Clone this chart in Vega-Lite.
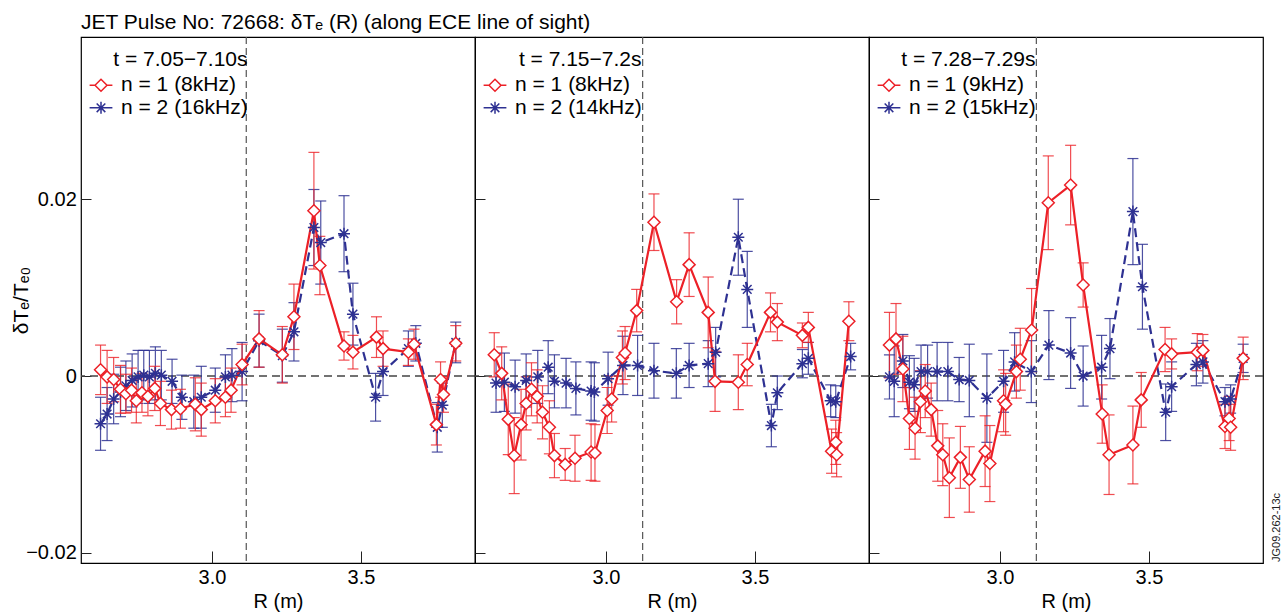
{
  "$schema": "https://vega.github.io/schema/vega-lite/v6.json",
  "background": "white",
  "padding": {"left": 9, "top": 11, "right": 2, "bottom": 2},
  "datasets": {
    "refs": [{"p": 1, "R": 3.115}, {"p": 2, "R": 3.123}, {"p": 3, "R": 3.122}],
    "p1": [
      {"n": "n2", "R": 2.626, "v": -0.0054, "e": 0.003},
      {"n": "n2", "R": 2.648, "v": -0.0043, "e": 0.003},
      {"n": "n2", "R": 2.670, "v": -0.0026, "e": 0.0028},
      {"n": "n2", "R": 2.693, "v": -0.0018, "e": 0.0028},
      {"n": "n2", "R": 2.711, "v": -0.0011, "e": 0.0028},
      {"n": "n2", "R": 2.732, "v": -0.0005, "e": 0.003},
      {"n": "n2", "R": 2.752, "v": -0.0001, "e": 0.003},
      {"n": "n2", "R": 2.771, "v": 0.0001, "e": 0.0028},
      {"n": "n2", "R": 2.790, "v": -0.0001, "e": 0.003},
      {"n": "n2", "R": 2.810, "v": 0.0003, "e": 0.003},
      {"n": "n2", "R": 2.830, "v": 0.0001, "e": 0.0028},
      {"n": "n2", "R": 2.866, "v": -0.0006, "e": 0.0025},
      {"n": "n2", "R": 2.899, "v": -0.0024, "e": 0.0025},
      {"n": "n2", "R": 2.939, "v": -0.0029, "e": 0.003},
      {"n": "n2", "R": 2.964, "v": -0.0024, "e": 0.0035},
      {"n": "n2", "R": 3.011, "v": -0.0016, "e": 0.0025},
      {"n": "n2", "R": 3.045, "v": -0.0001, "e": 0.0025},
      {"n": "n2", "R": 3.067, "v": 0.0001, "e": 0.003},
      {"n": "n2", "R": 3.101, "v": 0.0005, "e": 0.0033},
      {"n": "n2", "R": 3.158, "v": 0.0040, "e": 0.003},
      {"n": "n2", "R": 3.236, "v": 0.0023, "e": 0.003},
      {"n": "n2", "R": 3.275, "v": 0.0050, "e": 0.0033},
      {"n": "n2", "R": 3.342, "v": 0.0168, "e": 0.0043},
      {"n": "n2", "R": 3.365, "v": 0.0151, "e": 0.0047},
      {"n": "n2", "R": 3.443, "v": 0.0161, "e": 0.0043},
      {"n": "n2", "R": 3.473, "v": 0.0070, "e": 0.0035},
      {"n": "n2", "R": 3.549, "v": -0.0024, "e": 0.0027},
      {"n": "n2", "R": 3.574, "v": 0.0005, "e": 0.0027},
      {"n": "n2", "R": 3.659, "v": 0.0031, "e": 0.002},
      {"n": "n2", "R": 3.684, "v": 0.0037, "e": 0.002},
      {"n": "n2", "R": 3.756, "v": -0.0058, "e": 0.0028},
      {"n": "n2", "R": 3.773, "v": -0.0033, "e": 0.0025},
      {"n": "n2", "R": 3.818, "v": 0.0038, "e": 0.0023},
      {"n": "n1", "R": 2.626, "v": 0.0007, "e": 0.0028},
      {"n": "n1", "R": 2.648, "v": -0.0001, "e": 0.003},
      {"n": "n1", "R": 2.670, "v": -0.0004, "e": 0.0025},
      {"n": "n1", "R": 2.693, "v": -0.0015, "e": 0.0027},
      {"n": "n1", "R": 2.711, "v": -0.0020, "e": 0.0022},
      {"n": "n1", "R": 2.730, "v": -0.0016, "e": 0.0025},
      {"n": "n1", "R": 2.746, "v": -0.0028, "e": 0.0025},
      {"n": "n1", "R": 2.765, "v": -0.0019, "e": 0.0022},
      {"n": "n1", "R": 2.785, "v": -0.0023, "e": 0.0022},
      {"n": "n1", "R": 2.808, "v": -0.0014, "e": 0.0025},
      {"n": "n1", "R": 2.827, "v": -0.0031, "e": 0.0025},
      {"n": "n1", "R": 2.864, "v": -0.0038, "e": 0.0022},
      {"n": "n1", "R": 2.894, "v": -0.0037, "e": 0.0022},
      {"n": "n1", "R": 2.944, "v": -0.0032, "e": 0.003},
      {"n": "n1", "R": 2.964, "v": -0.0038, "e": 0.003},
      {"n": "n1", "R": 3.011, "v": -0.0028, "e": 0.0025},
      {"n": "n1", "R": 3.045, "v": -0.0024, "e": 0.0022},
      {"n": "n1", "R": 3.064, "v": -0.0016, "e": 0.0025},
      {"n": "n1", "R": 3.101, "v": 0.0013, "e": 0.0023},
      {"n": "n1", "R": 3.158, "v": 0.0042, "e": 0.0032},
      {"n": "n1", "R": 3.236, "v": 0.0024, "e": 0.0032},
      {"n": "n1", "R": 3.275, "v": 0.0067, "e": 0.0037},
      {"n": "n1", "R": 3.342, "v": 0.0187, "e": 0.0066},
      {"n": "n1", "R": 3.362, "v": 0.0125, "e": 0.0033},
      {"n": "n1", "R": 3.443, "v": 0.0034, "e": 0.0016},
      {"n": "n1", "R": 3.473, "v": 0.0027, "e": 0.0019},
      {"n": "n1", "R": 3.552, "v": 0.0044, "e": 0.0023},
      {"n": "n1", "R": 3.574, "v": 0.0031, "e": 0.002},
      {"n": "n1", "R": 3.659, "v": 0.0027, "e": 0.0015},
      {"n": "n1", "R": 3.678, "v": 0.0036, "e": 0.0017},
      {"n": "n1", "R": 3.753, "v": -0.0055, "e": 0.0023},
      {"n": "n1", "R": 3.767, "v": -0.0004, "e": 0.002},
      {"n": "n1", "R": 3.777, "v": -0.0021, "e": 0.002},
      {"n": "n1", "R": 3.818, "v": 0.0037, "e": 0.002}
    ],
    "p2": [
      {"n": "n2", "R": 2.631, "v": -0.0008, "e": 0.0033},
      {"n": "n2", "R": 2.659, "v": -0.0007, "e": 0.0033},
      {"n": "n2", "R": 2.695, "v": -0.0012, "e": 0.003},
      {"n": "n2", "R": 2.732, "v": -0.0005, "e": 0.003},
      {"n": "n2", "R": 2.771, "v": -0.0001, "e": 0.003},
      {"n": "n2", "R": 2.806, "v": 0.0010, "e": 0.003},
      {"n": "n2", "R": 2.827, "v": -0.0006, "e": 0.003},
      {"n": "n2", "R": 2.866, "v": -0.0008, "e": 0.0028},
      {"n": "n2", "R": 2.899, "v": -0.0014, "e": 0.003},
      {"n": "n2", "R": 2.950, "v": -0.0017, "e": 0.0033},
      {"n": "n2", "R": 2.961, "v": -0.0018, "e": 0.0033},
      {"n": "n2", "R": 3.007, "v": -0.0003, "e": 0.003},
      {"n": "n2", "R": 3.057, "v": 0.0012, "e": 0.0033},
      {"n": "n2", "R": 3.106, "v": 0.0012, "e": 0.0034},
      {"n": "n2", "R": 3.161, "v": 0.0006, "e": 0.0031},
      {"n": "n2", "R": 3.236, "v": 0.0003, "e": 0.0028},
      {"n": "n2", "R": 3.279, "v": 0.0012, "e": 0.0025},
      {"n": "n2", "R": 3.343, "v": 0.0014, "e": 0.0026},
      {"n": "n2", "R": 3.368, "v": 0.0027, "e": 0.0028},
      {"n": "n2", "R": 3.444, "v": 0.0157, "e": 0.0043},
      {"n": "n2", "R": 3.474, "v": 0.0098, "e": 0.0043},
      {"n": "n2", "R": 3.555, "v": -0.0056, "e": 0.0024},
      {"n": "n2", "R": 3.575, "v": -0.0019, "e": 0.0019},
      {"n": "n2", "R": 3.659, "v": 0.0014, "e": 0.0016},
      {"n": "n2", "R": 3.679, "v": 0.0020, "e": 0.0018},
      {"n": "n2", "R": 3.754, "v": -0.0028, "e": 0.0018},
      {"n": "n2", "R": 3.771, "v": -0.0029, "e": 0.0018},
      {"n": "n2", "R": 3.821, "v": 0.0022, "e": 0.0015},
      {"n": "n1", "R": 2.625, "v": 0.0024, "e": 0.0025},
      {"n": "n1", "R": 2.650, "v": 0.0003, "e": 0.003},
      {"n": "n1", "R": 2.672, "v": -0.0049, "e": 0.004},
      {"n": "n1", "R": 2.692, "v": -0.0090, "e": 0.0043},
      {"n": "n1", "R": 2.715, "v": -0.0055, "e": 0.004},
      {"n": "n1", "R": 2.732, "v": -0.0031, "e": 0.003},
      {"n": "n1", "R": 2.750, "v": -0.0015, "e": 0.003},
      {"n": "n1", "R": 2.769, "v": -0.0023, "e": 0.003},
      {"n": "n1", "R": 2.787, "v": -0.0041, "e": 0.003},
      {"n": "n1", "R": 2.810, "v": -0.0058, "e": 0.003},
      {"n": "n1", "R": 2.827, "v": -0.0090, "e": 0.0025},
      {"n": "n1", "R": 2.863, "v": -0.0100, "e": 0.0018},
      {"n": "n1", "R": 2.896, "v": -0.0093, "e": 0.0026},
      {"n": "n1", "R": 2.950, "v": -0.0086, "e": 0.0032},
      {"n": "n1", "R": 2.963, "v": -0.0087, "e": 0.0032},
      {"n": "n1", "R": 3.004, "v": -0.0039, "e": 0.0026},
      {"n": "n1", "R": 3.019, "v": -0.0026, "e": 0.0026},
      {"n": "n1", "R": 3.055, "v": 0.0021, "e": 0.003},
      {"n": "n1", "R": 3.064, "v": 0.0026, "e": 0.003},
      {"n": "n1", "R": 3.103, "v": 0.0074, "e": 0.0024},
      {"n": "n1", "R": 3.161, "v": 0.0174, "e": 0.0032},
      {"n": "n1", "R": 3.237, "v": 0.0084, "e": 0.0025},
      {"n": "n1", "R": 3.279, "v": 0.0126, "e": 0.0036},
      {"n": "n1", "R": 3.343, "v": 0.0072, "e": 0.004},
      {"n": "n1", "R": 3.366, "v": -0.0006, "e": 0.0034},
      {"n": "n1", "R": 3.444, "v": -0.0007, "e": 0.0031},
      {"n": "n1", "R": 3.474, "v": 0.0013, "e": 0.0024},
      {"n": "n1", "R": 3.552, "v": 0.0072, "e": 0.0022},
      {"n": "n1", "R": 3.575, "v": 0.0061, "e": 0.0021},
      {"n": "n1", "R": 3.659, "v": 0.0046, "e": 0.0014},
      {"n": "n1", "R": 3.679, "v": 0.0055, "e": 0.0017},
      {"n": "n1", "R": 3.757, "v": -0.0085, "e": 0.0025},
      {"n": "n1", "R": 3.771, "v": -0.0075, "e": 0.0025},
      {"n": "n1", "R": 3.774, "v": -0.0089, "e": 0.0025},
      {"n": "n1", "R": 3.815, "v": 0.0062, "e": 0.0022}
    ],
    "p3": [
      {"n": "n2", "R": 2.629, "v": -0.0001, "e": 0.0025},
      {"n": "n2", "R": 2.645, "v": -0.0006, "e": 0.004},
      {"n": "n2", "R": 2.674, "v": 0.0017, "e": 0.003},
      {"n": "n2", "R": 2.696, "v": -0.0007, "e": 0.003},
      {"n": "n2", "R": 2.712, "v": -0.0010, "e": 0.003},
      {"n": "n2", "R": 2.735, "v": 0.0005, "e": 0.003},
      {"n": "n2", "R": 2.757, "v": 0.0005, "e": 0.003},
      {"n": "n2", "R": 2.789, "v": 0.0005, "e": 0.0033},
      {"n": "n2", "R": 2.825, "v": 0.0005, "e": 0.0033},
      {"n": "n2", "R": 2.863, "v": -0.0004, "e": 0.0025},
      {"n": "n2", "R": 2.897, "v": -0.0005, "e": 0.0041},
      {"n": "n2", "R": 2.956, "v": -0.0025, "e": 0.005},
      {"n": "n2", "R": 3.012, "v": -0.0006, "e": 0.0035},
      {"n": "n2", "R": 3.049, "v": 0.0016, "e": 0.0033},
      {"n": "n2", "R": 3.105, "v": 0.0005, "e": 0.0035},
      {"n": "n2", "R": 3.164, "v": 0.0035, "e": 0.0039},
      {"n": "n2", "R": 3.237, "v": 0.0026, "e": 0.004},
      {"n": "n2", "R": 3.279, "v": 0.0000, "e": 0.0034},
      {"n": "n2", "R": 3.341, "v": 0.0010, "e": 0.0036},
      {"n": "n2", "R": 3.369, "v": 0.0031, "e": 0.0034},
      {"n": "n2", "R": 3.446, "v": 0.0186, "e": 0.006},
      {"n": "n2", "R": 3.478, "v": 0.0101, "e": 0.0048},
      {"n": "n2", "R": 3.556, "v": -0.0041, "e": 0.0032},
      {"n": "n2", "R": 3.576, "v": -0.0012, "e": 0.0028},
      {"n": "n2", "R": 3.659, "v": 0.0013, "e": 0.0024},
      {"n": "n2", "R": 3.681, "v": 0.0016, "e": 0.0024},
      {"n": "n2", "R": 3.755, "v": -0.0029, "e": 0.0016},
      {"n": "n2", "R": 3.774, "v": -0.0026, "e": 0.0016},
      {"n": "n2", "R": 3.816, "v": 0.0020, "e": 0.0016},
      {"n": "n1", "R": 2.629, "v": 0.0035, "e": 0.0037},
      {"n": "n1", "R": 2.651, "v": 0.0042, "e": 0.004},
      {"n": "n1", "R": 2.674, "v": 0.0008, "e": 0.0037},
      {"n": "n1", "R": 2.696, "v": -0.0048, "e": 0.0035},
      {"n": "n1", "R": 2.715, "v": -0.0059, "e": 0.0035},
      {"n": "n1", "R": 2.733, "v": -0.0029, "e": 0.0035},
      {"n": "n1", "R": 2.749, "v": -0.0017, "e": 0.003},
      {"n": "n1", "R": 2.769, "v": -0.0038, "e": 0.003},
      {"n": "n1", "R": 2.791, "v": -0.0079, "e": 0.004},
      {"n": "n1", "R": 2.808, "v": -0.0089, "e": 0.0035},
      {"n": "n1", "R": 2.830, "v": -0.0115, "e": 0.0045},
      {"n": "n1", "R": 2.867, "v": -0.0092, "e": 0.0035},
      {"n": "n1", "R": 2.897, "v": -0.0117, "e": 0.0037},
      {"n": "n1", "R": 2.950, "v": -0.0085, "e": 0.004},
      {"n": "n1", "R": 2.966, "v": -0.0099, "e": 0.0043},
      {"n": "n1", "R": 3.012, "v": -0.0028, "e": 0.0035},
      {"n": "n1", "R": 3.019, "v": -0.0032, "e": 0.0035},
      {"n": "n1", "R": 3.055, "v": 0.0005, "e": 0.003},
      {"n": "n1", "R": 3.068, "v": 0.0019, "e": 0.0035},
      {"n": "n1", "R": 3.106, "v": 0.0052, "e": 0.0047},
      {"n": "n1", "R": 3.162, "v": 0.0196, "e": 0.0053},
      {"n": "n1", "R": 3.237, "v": 0.0216, "e": 0.0045},
      {"n": "n1", "R": 3.279, "v": 0.0103, "e": 0.0025},
      {"n": "n1", "R": 3.343, "v": -0.0043, "e": 0.0033},
      {"n": "n1", "R": 3.366, "v": -0.0089, "e": 0.0045},
      {"n": "n1", "R": 3.446, "v": -0.0078, "e": 0.0044},
      {"n": "n1", "R": 3.474, "v": -0.0027, "e": 0.0031},
      {"n": "n1", "R": 3.554, "v": 0.0030, "e": 0.0025},
      {"n": "n1", "R": 3.576, "v": 0.0025, "e": 0.0017},
      {"n": "n1", "R": 3.662, "v": 0.0027, "e": 0.0021},
      {"n": "n1", "R": 3.681, "v": 0.0029, "e": 0.0018},
      {"n": "n1", "R": 3.755, "v": -0.0057, "e": 0.0025},
      {"n": "n1", "R": 3.769, "v": -0.0048, "e": 0.0025},
      {"n": "n1", "R": 3.774, "v": -0.0058, "e": 0.0026},
      {"n": "n1", "R": 3.816, "v": 0.0020, "e": 0.0024}
    ]
  },
  "hconcat": [
    {
      "width": 394, "height": 526,
      "title": {"text": "JET Pulse No: 72668: δTₑ (R) (along ECE line of sight)", "anchor": "start", "frame": "group", "baseline": "alphabetic", "offset": -14, "fontSize": 21, "font": "Liberation Sans", "fontWeight": "normal", "color": "black"},
      "layer": [
        {"data": {"name": "refs"}, "transform": [{"filter": "datum.p == 1"}],
         "mark": {"type": "rule", "color": "#555", "strokeDash": [7, 4], "strokeWidth": 1.2},
         "encoding": {"x": {"field": "R", "type": "quantitative", "title": "R (m)", "scale": {"domain": [2.5604, 3.8826], "nice": false, "zero": false}, "axis": {"values": [3.0, 3.5], "format": ".1f", "labelFlush": false}}}},
        {"data": {"name": "refs"}, "transform": [{"filter": "datum.p == 1"}],
         "mark": {"type": "rule", "color": "#444", "strokeDash": [8, 5], "strokeWidth": 1.5},
         "encoding": {"y": {"datum": 0, "type": "quantitative", "title": "δTₑ/Tₑ₀", "scale": {"domain": [-0.02115, 0.03835], "nice": false, "zero": false}, "axis": {"values": [-0.02, 0, 0.02], "labelExpr": "datum.value == 0 ? '0' : format(datum.value, '.2f')", "titleX": -60, "titleBaseline": "middle", "titleFontSize": 21}}}},
        {"data": {"name": "p1"},
         "mark": {"type": "point", "opacity": 0, "filled": false, "size": 144},
         "encoding": {"x": {"field": "R", "type": "quantitative", "title": "R (m)", "scale": {"domain": [2.5604, 3.8826], "nice": false, "zero": false}}, "y": {"field": "v", "type": "quantitative", "title": "δTₑ/Tₑ₀", "scale": {"domain": [-0.02115, 0.03835], "nice": false, "zero": false}},
           "color": {"field": "n", "type": "nominal", "scale": {"domain": ["n1", "n2"], "range": ["#ec2027", "#2e3192"]},
             "legend": {"orient": "none", "legendX": 9.5, "legendY": 12.4, "padding": 0, "title": "t = 7.05−7.10s", "titleAnchor": "end", "titleFontSize": 21, "titleFontWeight": "normal", "titleFont": "Liberation Sans", "titleColor": "black", "titlePadding": 4.3, "labelFontSize": 21, "labelFont": "Liberation Sans", "labelColor": "black", "labelOffset": 9.5, "symbolSize": 144, "symbolStrokeWidth": 1.5, "symbolOpacity": 1, "rowPadding": 0.6, "labelExpr": "datum.value == 'n1' ? 'n = 1 (8kHz)' : 'n = 2 (16kHz)'"}},
           "shape": {"field": "n", "type": "nominal", "scale": {"domain": ["n1", "n2"], "range": ["M-1.9,0L-1,0M1,0L1.9,0M-1,0L0,-1L1,0L0,1Z", "M-1.9,0L1.9,0M0,-1L0,1M-0.72,-0.72L0.72,0.72M-0.72,0.72L0.72,-0.72"]}}}},
        {"data": {"name": "p1"}, "transform": [{"filter": "datum.n == 'n2'"}],
         "mark": {"type": "errorbar", "color": "#2e3192", "ticks": {"size": 11}, "thickness": 1.2, "opacity": 0.85},
         "encoding": {"x": {"field": "R", "type": "quantitative", "title": "R (m)", "scale": {"domain": [2.5604, 3.8826], "nice": false, "zero": false}}, "y": {"field": "v", "type": "quantitative", "title": "δTₑ/Tₑ₀", "scale": {"domain": [-0.02115, 0.03835], "nice": false, "zero": false}}, "yError": {"field": "e"}}},
        {"data": {"name": "p1"}, "transform": [{"filter": "datum.n == 'n1'"}],
         "mark": {"type": "errorbar", "color": "#ec2027", "ticks": {"size": 11}, "thickness": 1.2, "opacity": 0.8},
         "encoding": {"x": {"field": "R", "type": "quantitative", "title": "R (m)", "scale": {"domain": [2.5604, 3.8826], "nice": false, "zero": false}}, "y": {"field": "v", "type": "quantitative", "title": "δTₑ/Tₑ₀", "scale": {"domain": [-0.02115, 0.03835], "nice": false, "zero": false}}, "yError": {"field": "e"}}},
        {"data": {"name": "p1"}, "transform": [{"filter": "datum.n == 'n2'"}],
         "mark": {"type": "line", "color": "#2e3192", "strokeWidth": 2.2, "strokeDash": [9, 5]},
         "encoding": {"x": {"field": "R", "type": "quantitative", "title": "R (m)", "scale": {"domain": [2.5604, 3.8826], "nice": false, "zero": false}}, "y": {"field": "v", "type": "quantitative", "title": "δTₑ/Tₑ₀", "scale": {"domain": [-0.02115, 0.03835], "nice": false, "zero": false}}}},
        {"data": {"name": "p1"}, "transform": [{"filter": "datum.n == 'n1'"}],
         "mark": {"type": "line", "color": "#ec2027", "strokeWidth": 2.2},
         "encoding": {"x": {"field": "R", "type": "quantitative", "title": "R (m)", "scale": {"domain": [2.5604, 3.8826], "nice": false, "zero": false}}, "y": {"field": "v", "type": "quantitative", "title": "δTₑ/Tₑ₀", "scale": {"domain": [-0.02115, 0.03835], "nice": false, "zero": false}}}},
        {"data": {"name": "p1"}, "transform": [{"filter": "datum.n == 'n2'"}],
         "mark": {"type": "point", "shape": "M-1,0L1,0M0,-1L0,1M-0.72,-0.72L0.72,0.72M-0.72,0.72L0.72,-0.72", "filled": false, "stroke": "#2e3192", "fill": "white", "size": 144, "strokeWidth": 1.5, "opacity": 1},
         "encoding": {"x": {"field": "R", "type": "quantitative", "title": "R (m)", "scale": {"domain": [2.5604, 3.8826], "nice": false, "zero": false}}, "y": {"field": "v", "type": "quantitative", "title": "δTₑ/Tₑ₀", "scale": {"domain": [-0.02115, 0.03835], "nice": false, "zero": false}}}},
        {"data": {"name": "p1"}, "transform": [{"filter": "datum.n == 'n1'"}],
         "mark": {"type": "point", "shape": "diamond", "filled": false, "stroke": "#ec2027", "fill": "white", "size": 144, "strokeWidth": 1.5, "opacity": 1},
         "encoding": {"x": {"field": "R", "type": "quantitative", "title": "R (m)", "scale": {"domain": [2.5604, 3.8826], "nice": false, "zero": false}}, "y": {"field": "v", "type": "quantitative", "title": "δTₑ/Tₑ₀", "scale": {"domain": [-0.02115, 0.03835], "nice": false, "zero": false}}}}
      ]
    },
    {
      "width": 394, "height": 526,
      "layer": [
        {"data": {"name": "refs"}, "transform": [{"filter": "datum.p == 2"}],
         "mark": {"type": "rule", "color": "#555", "strokeDash": [7, 4], "strokeWidth": 1.2},
         "encoding": {"x": {"field": "R", "type": "quantitative", "title": "R (m)", "scale": {"domain": [2.5604, 3.8826], "nice": false, "zero": false}, "axis": {"values": [3.0, 3.5], "format": ".1f", "labelFlush": false}}}},
        {"data": {"name": "refs"}, "transform": [{"filter": "datum.p == 2"}],
         "mark": {"type": "rule", "color": "#444", "strokeDash": [8, 5], "strokeWidth": 1.5},
         "encoding": {"y": {"datum": 0, "type": "quantitative", "title": null, "scale": {"domain": [-0.02115, 0.03835], "nice": false, "zero": false}, "axis": {"values": [-0.02, 0, 0.02], "labels": false}}}},
        {"data": {"name": "p2"},
         "mark": {"type": "point", "opacity": 0, "filled": false, "size": 144},
         "encoding": {"x": {"field": "R", "type": "quantitative", "title": "R (m)", "scale": {"domain": [2.5604, 3.8826], "nice": false, "zero": false}}, "y": {"field": "v", "type": "quantitative", "title": null, "scale": {"domain": [-0.02115, 0.03835], "nice": false, "zero": false}},
           "color": {"field": "n", "type": "nominal", "scale": {"domain": ["n1", "n2"], "range": ["#ec2027", "#2e3192"]},
             "legend": {"orient": "none", "legendX": 9.5, "legendY": 12.4, "padding": 0, "title": "t = 7.15−7.2s", "titleAnchor": "end", "titleFontSize": 21, "titleFontWeight": "normal", "titleFont": "Liberation Sans", "titleColor": "black", "titlePadding": 4.3, "labelFontSize": 21, "labelFont": "Liberation Sans", "labelColor": "black", "labelOffset": 9.5, "symbolSize": 144, "symbolStrokeWidth": 1.5, "symbolOpacity": 1, "rowPadding": 0.6, "labelExpr": "datum.value == 'n1' ? 'n = 1 (8kHz)' : 'n = 2 (14kHz)'"}},
           "shape": {"field": "n", "type": "nominal", "scale": {"domain": ["n1", "n2"], "range": ["M-1.9,0L-1,0M1,0L1.9,0M-1,0L0,-1L1,0L0,1Z", "M-1.9,0L1.9,0M0,-1L0,1M-0.72,-0.72L0.72,0.72M-0.72,0.72L0.72,-0.72"]}}}},
        {"data": {"name": "p2"}, "transform": [{"filter": "datum.n == 'n2'"}],
         "mark": {"type": "errorbar", "color": "#2e3192", "ticks": {"size": 11}, "thickness": 1.2, "opacity": 0.85},
         "encoding": {"x": {"field": "R", "type": "quantitative", "title": "R (m)", "scale": {"domain": [2.5604, 3.8826], "nice": false, "zero": false}}, "y": {"field": "v", "type": "quantitative", "title": null, "scale": {"domain": [-0.02115, 0.03835], "nice": false, "zero": false}}, "yError": {"field": "e"}}},
        {"data": {"name": "p2"}, "transform": [{"filter": "datum.n == 'n1'"}],
         "mark": {"type": "errorbar", "color": "#ec2027", "ticks": {"size": 11}, "thickness": 1.2, "opacity": 0.8},
         "encoding": {"x": {"field": "R", "type": "quantitative", "title": "R (m)", "scale": {"domain": [2.5604, 3.8826], "nice": false, "zero": false}}, "y": {"field": "v", "type": "quantitative", "title": null, "scale": {"domain": [-0.02115, 0.03835], "nice": false, "zero": false}}, "yError": {"field": "e"}}},
        {"data": {"name": "p2"}, "transform": [{"filter": "datum.n == 'n2'"}],
         "mark": {"type": "line", "color": "#2e3192", "strokeWidth": 2.2, "strokeDash": [9, 5]},
         "encoding": {"x": {"field": "R", "type": "quantitative", "title": "R (m)", "scale": {"domain": [2.5604, 3.8826], "nice": false, "zero": false}}, "y": {"field": "v", "type": "quantitative", "title": null, "scale": {"domain": [-0.02115, 0.03835], "nice": false, "zero": false}}}},
        {"data": {"name": "p2"}, "transform": [{"filter": "datum.n == 'n1'"}],
         "mark": {"type": "line", "color": "#ec2027", "strokeWidth": 2.2},
         "encoding": {"x": {"field": "R", "type": "quantitative", "title": "R (m)", "scale": {"domain": [2.5604, 3.8826], "nice": false, "zero": false}}, "y": {"field": "v", "type": "quantitative", "title": null, "scale": {"domain": [-0.02115, 0.03835], "nice": false, "zero": false}}}},
        {"data": {"name": "p2"}, "transform": [{"filter": "datum.n == 'n2'"}],
         "mark": {"type": "point", "shape": "M-1,0L1,0M0,-1L0,1M-0.72,-0.72L0.72,0.72M-0.72,0.72L0.72,-0.72", "filled": false, "stroke": "#2e3192", "fill": "white", "size": 144, "strokeWidth": 1.5, "opacity": 1},
         "encoding": {"x": {"field": "R", "type": "quantitative", "title": "R (m)", "scale": {"domain": [2.5604, 3.8826], "nice": false, "zero": false}}, "y": {"field": "v", "type": "quantitative", "title": null, "scale": {"domain": [-0.02115, 0.03835], "nice": false, "zero": false}}}},
        {"data": {"name": "p2"}, "transform": [{"filter": "datum.n == 'n1'"}],
         "mark": {"type": "point", "shape": "diamond", "filled": false, "stroke": "#ec2027", "fill": "white", "size": 144, "strokeWidth": 1.5, "opacity": 1},
         "encoding": {"x": {"field": "R", "type": "quantitative", "title": "R (m)", "scale": {"domain": [2.5604, 3.8826], "nice": false, "zero": false}}, "y": {"field": "v", "type": "quantitative", "title": null, "scale": {"domain": [-0.02115, 0.03835], "nice": false, "zero": false}}}}
      ]
    },
    {
      "width": 394, "height": 526,
      "resolve": {"axis": {"y": "independent"}},
      "layer": [
        {"data": {"name": "refs"}, "transform": [{"filter": "datum.p == 3"}],
         "mark": {"type": "rule", "color": "#555", "strokeDash": [7, 4], "strokeWidth": 1.2},
         "encoding": {"x": {"field": "R", "type": "quantitative", "title": "R (m)", "scale": {"domain": [2.5604, 3.8826], "nice": false, "zero": false}, "axis": {"values": [3.0, 3.5], "format": ".1f", "labelFlush": false}}}},
        {"data": {"name": "refs"}, "transform": [{"filter": "datum.p == 3"}],
         "mark": {"type": "rule", "color": "#444", "strokeDash": [8, 5], "strokeWidth": 1.5},
         "encoding": {"y": {"datum": 0, "type": "quantitative", "title": null, "scale": {"domain": [-0.02115, 0.03835], "nice": false, "zero": false}, "axis": {"orient": "left", "values": [-0.02, 0, 0.02], "labels": false}}}},
        {"data": {"name": "p3"},
         "mark": {"type": "point", "opacity": 0, "filled": false, "size": 144},
         "encoding": {"x": {"field": "R", "type": "quantitative", "title": "R (m)", "scale": {"domain": [2.5604, 3.8826], "nice": false, "zero": false}}, "y": {"field": "v", "type": "quantitative", "title": "JG09.262-13c", "scale": {"domain": [-0.02115, 0.03835], "nice": false, "zero": false}, "axis": {"orient": "right", "ticks": false, "labels": false, "domain": false, "titleAngle": 270, "titleFontSize": 11, "titleX": 13, "titleY": 490, "titleAlign": "center", "titleBaseline": "middle", "titleColor": "#222"}},
           "color": {"field": "n", "type": "nominal", "scale": {"domain": ["n1", "n2"], "range": ["#ec2027", "#2e3192"]},
             "legend": {"orient": "none", "legendX": 9.5, "legendY": 12.4, "padding": 0, "title": "t = 7.28−7.29s", "titleAnchor": "end", "titleFontSize": 21, "titleFontWeight": "normal", "titleFont": "Liberation Sans", "titleColor": "black", "titlePadding": 4.3, "labelFontSize": 21, "labelFont": "Liberation Sans", "labelColor": "black", "labelOffset": 9.5, "symbolSize": 144, "symbolStrokeWidth": 1.5, "symbolOpacity": 1, "rowPadding": 0.6, "labelExpr": "datum.value == 'n1' ? 'n = 1 (9kHz)' : 'n = 2 (15kHz)'"}},
           "shape": {"field": "n", "type": "nominal", "scale": {"domain": ["n1", "n2"], "range": ["M-1.9,0L-1,0M1,0L1.9,0M-1,0L0,-1L1,0L0,1Z", "M-1.9,0L1.9,0M0,-1L0,1M-0.72,-0.72L0.72,0.72M-0.72,0.72L0.72,-0.72"]}}}},
        {"data": {"name": "p3"}, "transform": [{"filter": "datum.n == 'n2'"}],
         "mark": {"type": "errorbar", "color": "#2e3192", "ticks": {"size": 11}, "thickness": 1.2, "opacity": 0.85},
         "encoding": {"x": {"field": "R", "type": "quantitative", "title": "R (m)", "scale": {"domain": [2.5604, 3.8826], "nice": false, "zero": false}}, "y": {"field": "v", "type": "quantitative", "title": null, "axis": null, "scale": {"domain": [-0.02115, 0.03835], "nice": false, "zero": false}}, "yError": {"field": "e"}}},
        {"data": {"name": "p3"}, "transform": [{"filter": "datum.n == 'n1'"}],
         "mark": {"type": "errorbar", "color": "#ec2027", "ticks": {"size": 11}, "thickness": 1.2, "opacity": 0.8},
         "encoding": {"x": {"field": "R", "type": "quantitative", "title": "R (m)", "scale": {"domain": [2.5604, 3.8826], "nice": false, "zero": false}}, "y": {"field": "v", "type": "quantitative", "title": null, "axis": null, "scale": {"domain": [-0.02115, 0.03835], "nice": false, "zero": false}}, "yError": {"field": "e"}}},
        {"data": {"name": "p3"}, "transform": [{"filter": "datum.n == 'n2'"}],
         "mark": {"type": "line", "color": "#2e3192", "strokeWidth": 2.2, "strokeDash": [9, 5]},
         "encoding": {"x": {"field": "R", "type": "quantitative", "title": "R (m)", "scale": {"domain": [2.5604, 3.8826], "nice": false, "zero": false}}, "y": {"field": "v", "type": "quantitative", "title": null, "axis": null, "scale": {"domain": [-0.02115, 0.03835], "nice": false, "zero": false}}}},
        {"data": {"name": "p3"}, "transform": [{"filter": "datum.n == 'n1'"}],
         "mark": {"type": "line", "color": "#ec2027", "strokeWidth": 2.2},
         "encoding": {"x": {"field": "R", "type": "quantitative", "title": "R (m)", "scale": {"domain": [2.5604, 3.8826], "nice": false, "zero": false}}, "y": {"field": "v", "type": "quantitative", "title": null, "axis": null, "scale": {"domain": [-0.02115, 0.03835], "nice": false, "zero": false}}}},
        {"data": {"name": "p3"}, "transform": [{"filter": "datum.n == 'n2'"}],
         "mark": {"type": "point", "shape": "M-1,0L1,0M0,-1L0,1M-0.72,-0.72L0.72,0.72M-0.72,0.72L0.72,-0.72", "filled": false, "stroke": "#2e3192", "fill": "white", "size": 144, "strokeWidth": 1.5, "opacity": 1},
         "encoding": {"x": {"field": "R", "type": "quantitative", "title": "R (m)", "scale": {"domain": [2.5604, 3.8826], "nice": false, "zero": false}}, "y": {"field": "v", "type": "quantitative", "title": null, "axis": null, "scale": {"domain": [-0.02115, 0.03835], "nice": false, "zero": false}}}},
        {"data": {"name": "p3"}, "transform": [{"filter": "datum.n == 'n1'"}],
         "mark": {"type": "point", "shape": "diamond", "filled": false, "stroke": "#ec2027", "fill": "white", "size": 144, "strokeWidth": 1.5, "opacity": 1},
         "encoding": {"x": {"field": "R", "type": "quantitative", "title": "R (m)", "scale": {"domain": [2.5604, 3.8826], "nice": false, "zero": false}}, "y": {"field": "v", "type": "quantitative", "title": null, "axis": null, "scale": {"domain": [-0.02115, 0.03835], "nice": false, "zero": false}}}}
      ]
    }
  ],
  "spacing": 0,
  "bounds": "flush",
  "resolve": {"scale": {"color": "independent", "shape": "independent", "x": "independent", "y": "independent"}, "legend": {"color": "independent", "shape": "independent"}, "axis": {"x": "independent", "y": "independent"}},
  "config": {
    "font": "Liberation Sans",
    "view": {"stroke": "black", "strokeWidth": 1.2},
    "axis": {"domain": false, "grid": false, "tickColor": "#222", "tickWidth": 1, "labelFont": "Liberation Sans", "labelFontSize": 20, "labelColor": "black", "titleFont": "Liberation Sans", "titleFontSize": 20, "titleFontWeight": "normal", "titleColor": "black"},
    "axisX": {"tickSize": -12, "labelPadding": 16, "titlePadding": 4},
    "axisY": {"tickSize": -10, "labelPadding": 14.7},
    "title": {"font": "Liberation Sans", "fontWeight": "normal", "color": "black"}
  }
}
